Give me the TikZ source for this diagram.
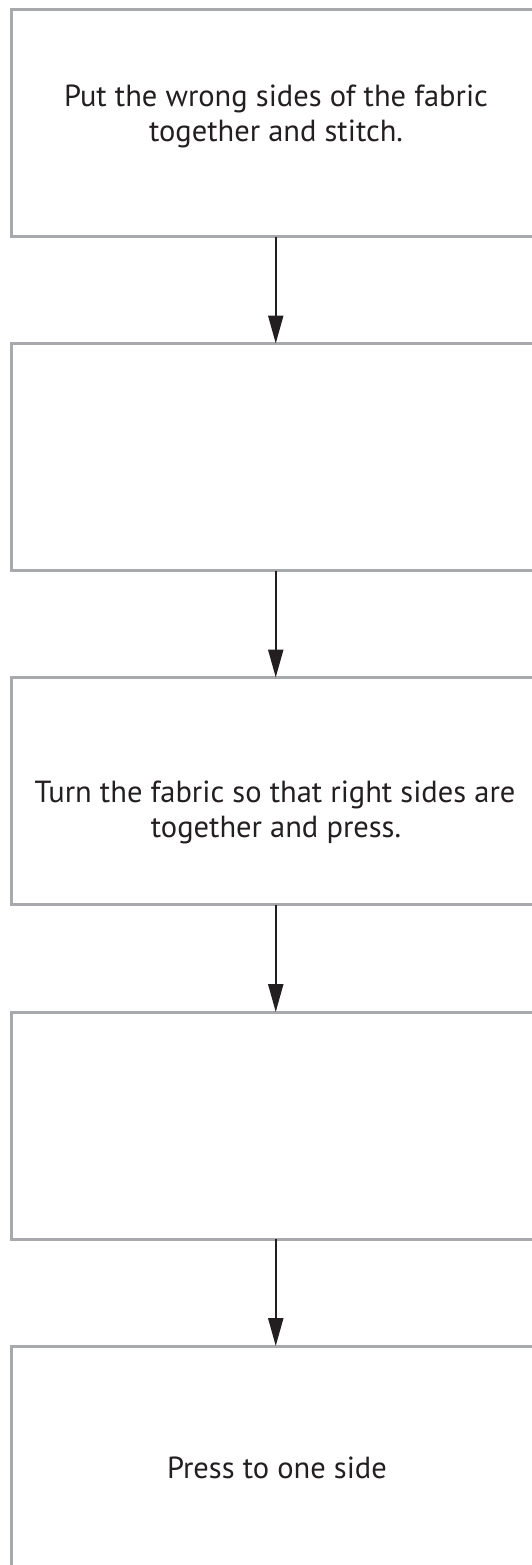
\documentclass[tikz,border=0pt]{standalone}
\usepackage{fontspec}
\setmainfont{PT Sans}
\usetikzlibrary{arrows.meta}
\definecolor{boxgray}{HTML}{A7A9AC}
\definecolor{ink}{HTML}{231F20}
\tikzset{
  stepbox/.style={draw=boxgray, line width=3pt, rectangle, inner sep=0pt, outer sep=0pt,
    minimum width=528.5pt, minimum height=227pt},
  flow/.style={draw=ink, line width=2.2pt, -{Triangle[length=28pt,width=15pt]}},
  label/.style={text=ink, font=\fontsize{30.5}{35}\selectfont, anchor=base, inner sep=0pt}
}
\begin{document}
\begin{tikzpicture}[x=1pt,y=-1pt]
\useasboundingbox (0,0) rectangle (531,1565);
\node[stepbox] (b1) at (275.75,123) {};
\node[stepbox] (b2) at (275.75,457) {};
\node[stepbox] (b3) at (275.75,791) {};
\node[stepbox] (b4) at (275.75,1125.5) {};
\node[stepbox] (b5) at (275.75,1459.5) {};
\node[label] (t1a) at (276,107) {Put the wrong sides of the fabric};
\node[label] (t1b) at (276,142) {together and stitch.};
\node[label] (t3a) at (275,802) {Turn the fabric so that right sides are};
\node[label] (t3b) at (276,837) {together and press.};
\node[label] (t5) at (277,1478) {Press to one side};
\draw[flow] (b1.south) -- (b2.north);
\draw[flow] (b2.south) -- (b3.north);
\draw[flow] (b3.south) -- (b4.north);
\draw[flow] (b4.south) -- (b5.north);
\end{tikzpicture}
\end{document}
